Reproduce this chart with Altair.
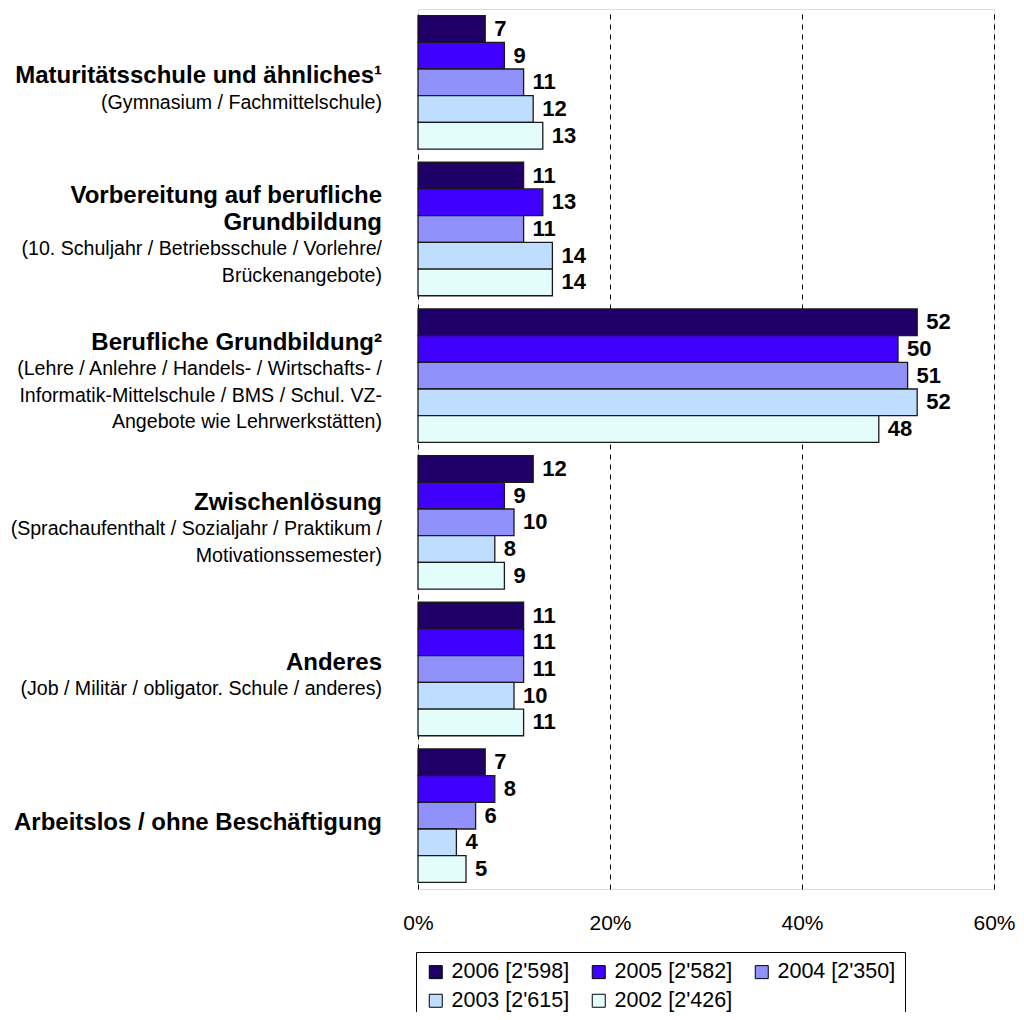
import altair as alt
import pandas as pd

categories = [
    "Maturitätsschule und ähnliches¹",
    "Vorbereitung auf berufliche Grundbildung",
    "Berufliche Grundbildung²",
    "Zwischenlösung",
    "Anderes",
    "Arbeitslos / ohne Beschäftigung",
]
title_lines = [
    ["Maturitätsschule und ähnliches¹"],
    ["Vorbereitung auf berufliche", "Grundbildung"],
    ["Berufliche Grundbildung²"],
    ["Zwischenlösung"],
    ["Anderes"],
    ["Arbeitslos / ohne Beschäftigung"],
]
sub_lines = [
    ["(Gymnasium / Fachmittelschule)"],
    ["(10. Schuljahr / Betriebsschule / Vorlehre/", "Brückenangebote)"],
    ["(Lehre / Anlehre / Handels- / Wirtschafts- /",
     "Informatik-Mittelschule / BMS / Schul. VZ-",
     "Angebote wie Lehrwerkstätten)"],
    ["(Sprachaufenthalt / Sozialjahr / Praktikum /", "Motivationssemester)"],
    ["(Job / Militär / obligator. Schule / anderes)"],
    [],
]

series = ["2006 [2'598]", "2005 [2'582]", "2004 [2'350]", "2003 [2'615]", "2002 [2'426]"]
v2006 = [7, 11, 52, 12, 11, 7]
v2005 = [9, 13, 50, 9, 11, 8]
v2004 = [11, 11, 51, 10, 11, 6]
v2003 = [12, 14, 52, 8, 10, 4]
v2002 = [13, 14, 48, 9, 11, 5]
colors = ["#1f0068", "#4000ff", "#9191fb", "#bfdeff", "#e3fdfb"]

rows = []
for s, vals in zip(series, [v2006, v2005, v2004, v2003, v2002]):
    for c, v in zip(categories, vals):
        rows.append({"cat": c, "series": s, "value": v})
df = pd.DataFrame(rows)

LINE = 26.5
lab_rows = []
for c, tl, sl in zip(categories, title_lines, sub_lines):
    lines = [(t, "bold") for t in tl] + [(t, "normal") for t in sl]
    n = len(lines)
    for k, (t, w) in enumerate(lines):
        lab_rows.append({"cat": c, "text": t, "weight": w, "off": (k - (n - 1) / 2) * LINE})
lab = pd.DataFrame(lab_rows)

FONT = "Liberation Sans"
H = 880
W = 576
PI, PO = 0.09, 0.045
STEP = H / (len(categories) - PI + 2 * PO)
HALF_BAND = STEP * (1 - PI) / 2
LABEL_SHIFT = 7

yenc = alt.Y("cat:N", sort=categories,
             scale=alt.Scale(paddingInner=PI, paddingOuter=PO), axis=None)

bars = alt.Chart(df).mark_bar(stroke="#1a1a1a", strokeWidth=1.3).encode(
    x=alt.X("value:Q", scale=alt.Scale(domain=[0, 60], nice=False),
            axis=alt.Axis(values=[0, 20, 40, 60], labelExpr="datum.value + '%'",
                          grid=True, gridDash=[5, 5], gridColor="black", gridWidth=1,
                          ticks=False, domain=False, labelFontSize=21, labelFont=FONT,
                          labelFlush=False, labelPadding=23, labelColor="black",
                          title=None)),
    y=yenc,
    yOffset=alt.YOffset("series:N", sort=series,
                        scale=alt.Scale(paddingInner=0, paddingOuter=0)),
    color=alt.Color("series:N", sort=series,
                    scale=alt.Scale(domain=series, range=colors),
                    legend=alt.Legend(title=None, orient="none", legendX=-2, legendY=943,
                                      direction="horizontal", columns=3,
                                      symbolType="square", symbolSize=169,
                                      symbolStrokeColor="black", symbolStrokeWidth=1,
                                      labelFontSize=21.5, labelFont=FONT, labelColor="black",
                                      strokeColor="black", fillColor="white", padding=9,
                                      columnPadding=18, rowPadding=6, labelOffset=5)),
)

vals = alt.Chart(df).mark_text(align="left", baseline="middle", dx=9,
                               fontSize=22, fontWeight="bold", font=FONT,
                               color="black").encode(
    x="value:Q",
    y=yenc,
    yOffset=alt.YOffset("series:N", sort=series,
                        scale=alt.Scale(type="point", padding=0.5)),
    text="value:Q",
)

off_scale = alt.Scale(domain=[-100, 100], range=[-100, 100])

labels_b = alt.Chart(lab).transform_filter("datum.weight == 'bold'").mark_text(
    align="right", baseline="middle", dy=HALF_BAND + LABEL_SHIFT, fontSize=24,
    fontWeight="bold", font=FONT, color="black").encode(
    x=alt.value(-36),
    y=yenc,
    yOffset=alt.YOffset("off:Q", scale=off_scale),
    text="text:N",
)
labels_r = alt.Chart(lab).transform_filter("datum.weight == 'normal'").mark_text(
    align="right", baseline="middle", dy=HALF_BAND + LABEL_SHIFT, fontSize=19.6,
    font=FONT, color="black").encode(
    x=alt.value(-36),
    y=yenc,
    yOffset=alt.YOffset("off:Q", scale=off_scale),
    text="text:N",
)

chart = alt.layer(bars, vals, labels_b, labels_r).resolve_scale(
    yOffset="independent"
).properties(
    width=W, height=H,
    autosize=alt.AutoSizeParams(type="none"),
    padding={"left": 410, "top": 1, "right": 22, "bottom": 123},
).configure_view(stroke="black", strokeWidth=1.5).configure(font=FONT)

chart.save("out.html", embed_options={"renderer": "svg", "actions": False})
